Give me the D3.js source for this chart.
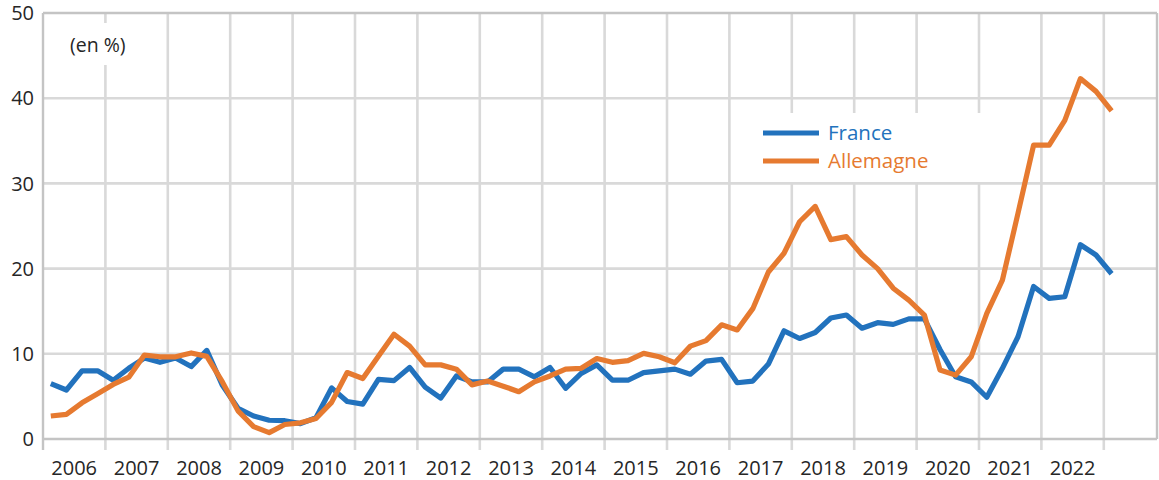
<!DOCTYPE html>
<html>
<head>
<meta charset="utf-8">
<script src="https://cdn.jsdelivr.net/npm/d3@7"></script>
<style>
  html, body { margin: 0; padding: 0; background: #fff; }
  svg { display: block; font-family: "Open Sans", "Noto Sans", sans-serif; }
</style>
</head>
<body>
<svg id="chart" width="1159" height="480"></svg>
<script>
// ---- Data (quarterly, 2006 Q1 → 2023 Q1) ----
const startYear = 2006;
const yearLabels = ["2006","2007","2008","2009","2010","2011","2012","2013","2014","2015","2016","2017","2018","2019","2020","2021","2022"];
const yTicks = [0, 10, 20, 30, 40, 50];
const seriesNames = ["France", "Allemagne"];
const france = [
  6.5, 5.75, 8.0, 8.0, 6.9, 8.3, 9.5, 9.0, 9.5, 8.5, 10.4, 6.3,
  3.6, 2.7, 2.2, 2.15, 1.8, 2.5, 6.0, 4.4, 4.1, 7.0, 6.85, 8.4,
  6.1, 4.8, 7.4, 6.7, 6.7, 8.2, 8.2, 7.3, 8.4, 5.95, 7.7, 8.7,
  6.9, 6.9, 7.8, 8.0, 8.2, 7.6, 9.15, 9.35, 6.6, 6.8, 8.8, 12.7,
  11.8, 12.5, 14.2, 14.55, 13.0, 13.65, 13.45, 14.1, 14.1, 10.5, 7.3, 6.7,
  4.9, 8.3, 12.0, 17.9, 16.5, 16.7, 22.8, 21.6, 19.4
];
const allemagne = [
  2.7, 2.9, 4.25, 5.3, 6.4, 7.25, 9.85, 9.65, 9.65, 10.1, 9.7, 6.7,
  3.3, 1.45, 0.75, 1.7, 1.9, 2.4, 4.3, 7.8, 7.1, 9.7, 12.3, 10.9,
  8.7, 8.7, 8.2, 6.35, 6.8, 6.2, 5.55, 6.7, 7.4, 8.2, 8.3, 9.45,
  9.0, 9.2, 10.05, 9.65, 8.95, 10.9, 11.55, 13.4, 12.8, 15.3, 19.6, 21.8,
  25.5, 27.3, 23.4, 23.75, 21.6, 20.0, 17.7, 16.3, 14.55, 8.1, 7.5, 9.65,
  14.75, 18.65, 26.5, 34.5, 34.5, 37.4, 42.3, 40.8, 38.5
];
const unitLabel = "(en %)";
const colors = { France: "#2272bd", Allemagne: "#e67a30" };

// ---- Layout ----
const svg = d3.select("#chart");
const plot = { left: 43, right: 1157, top: 13, bottom: 439 };
const yearWidth = 62.4;
const x = d3.scaleLinear()
  .domain([startYear, startYear + (plot.right - plot.left) / yearWidth])
  .range([plot.left, plot.right]);
const y = d3.scaleLinear().domain([0, 50]).range([plot.bottom, plot.top]);

const gridColor = "#d9d9d9";
const axisColor = "#c4c4c4";
const textColor = "#262626";

// Horizontal gridlines
svg.append("g").selectAll("line")
  .data(yTicks.filter(d => d > 0 && d < 50))
  .join("line")
  .attr("x1", plot.left).attr("x2", plot.right)
  .attr("y1", d => y(d)).attr("y2", d => y(d))
  .attr("stroke", gridColor).attr("stroke-width", 2.6);

// Vertical gridlines at year boundaries (extend below as tick marks)
const boundaries = d3.range(startYear + 1, startYear + yearLabels.length + 1);
svg.append("g").selectAll("line")
  .data(boundaries)
  .join("line")
  .attr("x1", d => x(d)).attr("x2", d => x(d))
  .attr("y1", plot.top).attr("y2", plot.bottom + 11)
  .attr("stroke", gridColor).attr("stroke-width", 2.6);

// Plot frame: top, right, left axis, bottom axis
svg.append("line").attr("x1", plot.left).attr("x2", plot.right).attr("y1", y(50)).attr("y2", y(50))
  .attr("stroke", axisColor).attr("stroke-width", 2.4);
svg.append("line").attr("x1", plot.right).attr("x2", plot.right).attr("y1", plot.top).attr("y2", plot.bottom)
  .attr("stroke", axisColor).attr("stroke-width", 2.4);
svg.append("line").attr("x1", x(startYear)).attr("x2", x(startYear)).attr("y1", plot.top).attr("y2", plot.bottom + 11)
  .attr("stroke", axisColor).attr("stroke-width", 2.4);
svg.append("line").attr("x1", plot.left).attr("x2", plot.right).attr("y1", y(0)).attr("y2", y(0))
  .attr("stroke", axisColor).attr("stroke-width", 2.4);

// Y tick labels
svg.append("g").selectAll("text")
  .data(yTicks)
  .join("text")
  .attr("x", 34).attr("y", d => y(d))
  .attr("dy", "0.36em")
  .attr("text-anchor", "end")
  .attr("font-size", 20)
  .attr("fill", textColor)
  .text(d => d);

// X labels (centered in each year)
svg.append("g").selectAll("text")
  .data(yearLabels)
  .join("text")
  .attr("x", (d, i) => x(startYear + i + 0.5))
  .attr("y", 475)
  .attr("text-anchor", "middle")
  .attr("font-size", 20)
  .attr("fill", textColor)
  .text(d => d);

// Unit label with white background
const unitG = svg.append("g");
unitG.append("rect").attr("x", 62).attr("y", 23).attr("width", 76).attr("height", 42).attr("fill", "#fff");
unitG.append("text").attr("x", 70).attr("y", 52).attr("font-size", 19.5).attr("fill", textColor).text(unitLabel);

// Lines
const xq = i => x(startYear + (i + 0.5) / 4);
const line = d3.line().x((d, i) => xq(i)).y(d => y(d)).curve(d3.curveLinear);
const seriesData = [france, allemagne];
seriesData.forEach((vals, k) => {
  svg.append("path")
    .datum(vals)
    .attr("d", line)
    .attr("fill", "none")
    .attr("stroke", colors[seriesNames[k]])
    .attr("stroke-width", 5.2)
    .attr("stroke-linejoin", "round");
});

// Legend
const lg = svg.append("g");
lg.append("rect").attr("x", 753).attr("y", 113).attr("width", 252).attr("height", 69).attr("fill", "#fff");
seriesNames.forEach((name, k) => {
  const yy = 133 + k * 28;
  lg.append("line").attr("x1", 763).attr("x2", 819).attr("y1", yy).attr("y2", yy)
    .attr("stroke", colors[name]).attr("stroke-width", 5.2);
  lg.append("text").attr("x", 828).attr("y", yy).attr("dy", "0.35em")
    .attr("font-size", 20.5).attr("fill", colors[name]).text(name);
});
</script>
</body>
</html>
